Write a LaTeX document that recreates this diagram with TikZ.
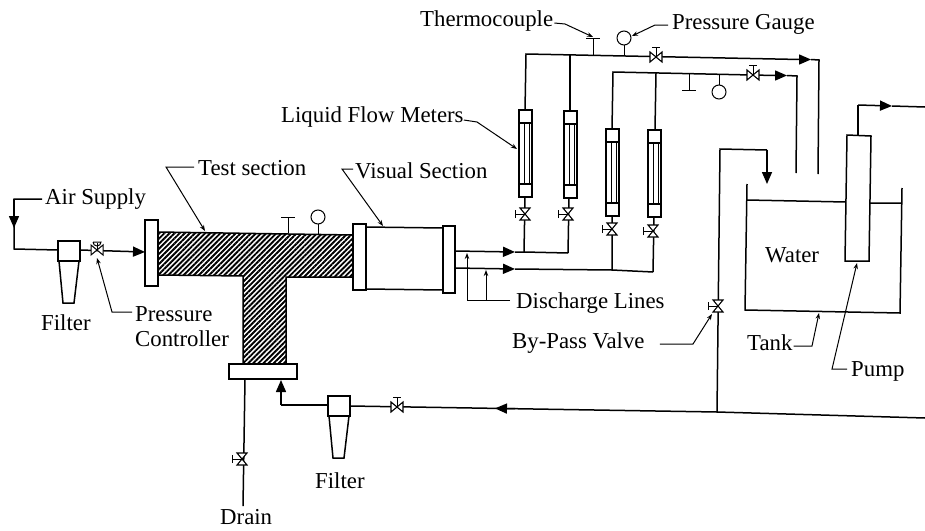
\documentclass[tikz,border=0pt]{standalone}
\usepackage{fontspec}
\setmainfont{Liberation Serif}
\usetikzlibrary{arrows.meta,patterns.meta,calc}

\tikzset{
    pipe/.style={line width=1.5pt, line join=miter},
    flowtip/.style={pipe, -{Triangle[length=12pt,width=10pt]}},
    leader/.style={line width=1pt},
    pointer/.style={leader, -{Stealth[length=6pt,width=4.5pt]}},
    label/.style={font=\fontsize{22.8}{26}\selectfont, inner sep=0pt, anchor=base west, text height=15pt, text depth=5pt},
    hatched/.style={draw, line width=1.5pt, pattern={Lines[angle=45,distance=3.6pt,line width=1.9pt]}},
    pics/valve/.style={code={
        \draw[line width=1pt] (0,0) -- (0,-10) (-4,-10) -- (4,-10);
        \draw[line width=1.1pt, fill=white] (-6,-5) -- (6,5) -- (6,-5) -- (-6,5) -- cycle;
    }},
    pics/meter/.style={code={
        \draw[pipe, fill=white] (0,0) rectangle (13,87);
        \draw[pipe] (0,13) -- (14,13) (0,74) -- (14,74);
        \draw[line width=1pt] (5.5,13) -- (5.5,74) (10,13) -- (10,74);
    }},
    pics/filter/.style={code={
        \draw[pipe, fill=white] (0,0) rectangle (22,20);
        \draw[pipe, fill=white] (1,20) -- (21,20) -- (16,62) -- (5,62) -- cycle;
    }},
    pics/tcouple/.style={code={
        \draw[leader] (0,0) -- (0,#1) (-7,#1) -- (7,#1);
    }},
    pics/gauge/.style={code={
        \draw[leader] (0,0) -- (0,#1*10);
        \draw[leader, fill=white] (0,#1*17) circle (7);
    }},
}

\begin{document}
\begin{tikzpicture}[x=1pt,y=-1pt]
    \useasboundingbox (0,0) rectangle (925,530);
    \fill[white] (0,0) rectangle (925,530);

    % labels
    \node[label] (air) at (45,204) {Air Supply};
    \node[label] (test) at (198,175) {Test section};
    \node[label] (visual) at (355,178) {Visual Section};
    \node[label] (meters) at (281,122) {Liquid Flow Meters};
    \node[label] (thermo) at (420,26) {Thermocouple};
    \node[label] (gaugelabel) at (672,29) {Pressure Gauge};
    \node[label] (control) at (135,321) {Pressure};
    \node[label] (control2) at (135,346) {Controller};
    \node[label] (filterA) at (41,330) {Filter};
    \node[label] (filterB) at (315,488) {Filter};
    \node[label] (drain) at (220,524) {Drain};
    \node[label] (discharge) at (516,308) {Discharge Lines};
    \node[label] (bypass) at (512,348) {By-Pass Valve};
    \node[label] (water) at (765,262) {Water};
    \node[label] (tank) at (747,350) {Tank};
    \node[label] (pumplabel) at (851,376) {Pump};

    % air supply
    \coordinate (F1) at (58,241);
    \draw[pipe] (air.west) ++(-3,0) -- (14,199) -- (14,249) -- (58,250);
    \draw[flowtip] (14,199) -- (14,228);
    \draw[flowtip] (80,250) -- (145,252);
    \pic at (F1) {filter};
    \draw[pipe, fill=white] (145,220) rectangle (158,286);

    % test section
    \draw[hatched] (158,232) -- (354,235) -- (354,277) -- (286,277) -- (286,364)
        -- (243,364) -- (243,276) -- (158,275) -- cycle;
    \pic at (288,233) {tcouple=-16};
    \pic at (318,234) {gauge=-1};
    \draw[pipe, fill=white] (229,364) rectangle (297,379);

    % visual section
    \draw[pipe, fill=white] (366,227) -- (443,228) -- (443,290) -- (366,289) -- cycle;
    \draw[pipe, fill=white] (353,224) rectangle (366,290);
    \draw[pipe, fill=white] (443,226) rectangle (455,293);

    % discharge lines
    \coordinate (D1) at (524,252);
    \coordinate (D2) at (568,253);
    \coordinate (D3) at (612,270);
    \coordinate (D4) at (653,272);
    \draw[flowtip] (455,251) -- (515,252);
    \draw[flowtip] (455,268) -- (515,269);
    \draw[pipe] (515,252) -- (D1) -- (D2) (515,269) -- (D3) -- (D4);
    \draw[pipe] (D1) -- (525,197) (D2) -- (569,197) (D3) -- (612,216) (D4) -- (654,217);

    % upper header
    \coordinate (H1) at (526,54);
    \coordinate (H2) at (570,55);
    \coordinate (R1) at (819,60);
    \draw[pipe] (525,110) -- (H1) -- (800,59.5);
    \draw[pipe] (H2) -- (570,111);
    \draw[flowtip] (795,59.5) -- (811,59.5);
    \draw[pipe] (811,59.5) -- (R1) -- (818,174);
    \pic at (593,55) {tcouple=-17};
    \pic at (624,55) {gauge=-1};

    % lower header
    \coordinate (H3) at (613,72);
    \coordinate (H4) at (656,73);
    \coordinate (R2) at (797,76);
    \draw[pipe] (612,129) -- (H3) -- (775,75.5);
    \draw[pipe] (H4) -- (655,129);
    \draw[flowtip] (774,75.5) -- (787,75.5);
    \draw[pipe] (787,75.5) -- (R2) -- (796,173);
    \pic at (689,74) {tcouple=16};
    \pic at (719,75) {gauge=1};

    \foreach \x/\y in {519/110,564/111,606/129,648/130} {
        \pic at (\x,\y) {meter};
    }

    % tank and pump
    \draw[pipe] (747,184) -- (745,310) -- (900,313) -- (902,188);
    \draw[pipe] (747,200) -- (846,202) (870,203) -- (901,203);
    \draw[pipe, fill=white] (847,135) -- (871,136) -- (869,261) -- (845,261) -- cycle;
    \draw[pipe] (858,135) -- (858,105);
    \draw[flowtip] (858,105) -- (892,106);
    \draw[pipe] (892,106) -- (925,107);

    % return and by-pass
    \coordinate (J) at (717,412);
    \coordinate (F2) at (328,396);
    \coordinate (Rtip) at ($(350,406)!0.395!(J)$);
    \draw[pipe] (925,418) -- (J) -- (350,406);
    \draw[flowtip] ($(350,406)!0.45!(J)$) -- (Rtip);
    \draw[pipe] (J) -- (720,149) -- (767,150);
    \draw[flowtip] (767,150) -- (767,184);
    \draw[pipe] (328,405) -- (281,405);
    \draw[flowtip] (281,405) -- (281,380);
    \pic at (F2) {filter};
    \draw[pipe] (245,379) -- (243,506);

    % valves
    \foreach \x/\y in {656/57,753/75,397/407} {
        \pic at (\x,\y) {valve};
    }
    \foreach \x/\y in {525/214,568/214,612/229,653/231,718/306,242/459} {
        \pic[rotate=90] at (\x,\y) {valve};
    }
    \draw[leader] (97,250) -- (97,243);
    \draw[leader, fill=white] (91,245) -- (103,255) -- (103,245) -- (91,255) -- cycle;
    \draw[leader] (93,242) -- (101,242) arc (0:180:4);

    % leaders
    \draw[pointer] (test.west) ++(-4,-3) -- (166,167) -- (205,231);
    \draw[pointer] (visual.west) ++(-2,-4) -- (342,169) -- (383,226);
    \draw[pointer] (meters.east) ++(0,3) -- (477,122) -- (517,149);
    \draw[pointer] (thermo.east) ++(1,2) -- (565,24) -- (593,37);
    \draw[pointer] (gaugelabel.west) ++(-4,1) -- (655,25) -- (632,36);
    \draw[pointer] (control.west) ++(-3,-4) -- (112,312) -- (97,258);
    \draw[pointer] (discharge.west) ++(-6,-3) -- (467,300) -- (467,253);
    \draw[pointer] (486,300) -- (486,270);
    \draw[pointer] (bypass.east) ++(15,1) -- (693,344) -- (712,314);
    \draw[pointer] (tank.east) ++(1,1) -- (812,346) -- (819,313);
    \draw[pointer] (pumplabel.west) ++(-4,-2) -- (832,369) -- (857,263);
\end{tikzpicture}
\end{document}
